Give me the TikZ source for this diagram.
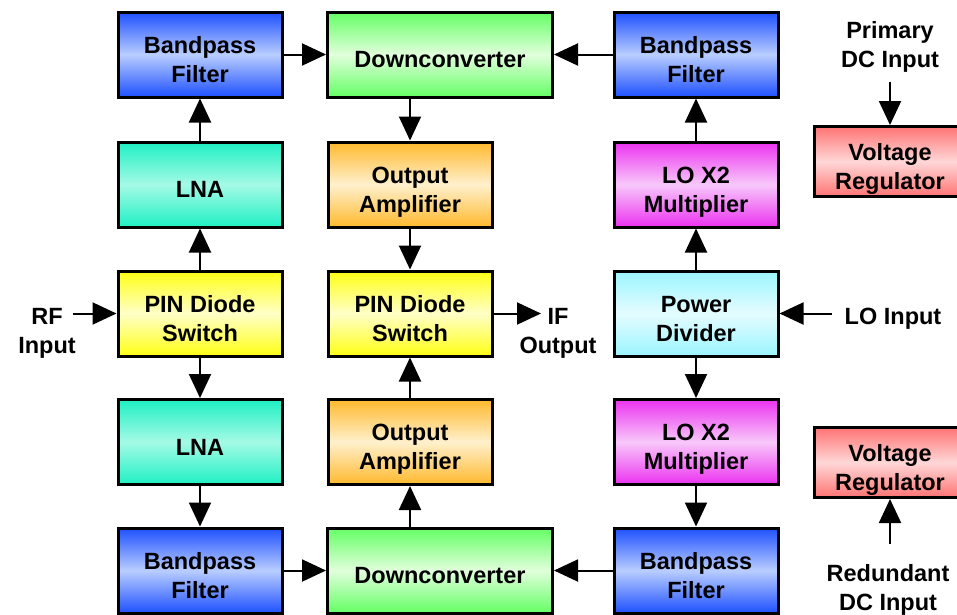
\documentclass[tikz,border=0pt]{standalone}
\usepackage{fontspec}
\setmainfont{Liberation Sans}
\usetikzlibrary{arrows.meta,positioning}

\definecolor{bpfblue}{RGB}{30,80,255}
\definecolor{bpflight}{RGB}{185,205,255}
\definecolor{dcgreen}{RGB}{100,255,100}
\definecolor{dclight}{RGB}{225,255,220}
\definecolor{lnateal}{RGB}{30,240,195}
\definecolor{lnalight}{RGB}{165,250,230}
\definecolor{oaorange}{RGB}{255,185,45}
\definecolor{oalight}{RGB}{255,240,205}
\definecolor{pinyellow}{RGB}{255,255,20}
\definecolor{pinlight}{RGB}{255,255,200}
\definecolor{lomag}{RGB}{235,50,240}
\definecolor{lolight}{RGB}{248,200,250}
\definecolor{pdcyan}{RGB}{155,245,255}
\definecolor{pdlight}{RGB}{228,252,255}
\definecolor{vrred}{RGB}{255,115,115}
\definecolor{vrlight}{RGB}{255,215,215}

\begin{document}
\begin{tikzpicture}[x=1pt,y=-1pt,->,>={Triangle[length=24pt,width=22pt]},
                    line width=2pt,
                    font=\fontsize{23.5}{29}\selectfont\bfseries,
  block/.style={draw,line width=3pt,minimum width=164pt,minimum height=85pt,
                inner sep=0pt,text height=55pt,text depth=0pt,align=center},
  oneline/.style={text height=26pt},
  shade/.style 2 args={top color=#1,bottom color=#1,middle color=#2},
  bpf/.style={block,shade={bpfblue}{bpflight}},
  dconv/.style={block,oneline,minimum width=225pt,shade={dcgreen}{dclight}},
  lna/.style={block,oneline,shade={lnateal}{lnalight}},
  outamp/.style={block,shade={oaorange}{oalight}},
  pin/.style={block,shade={pinyellow}{pinlight}},
  lomult/.style={block,shade={lomag}{lolight}},
  pdiv/.style={block,shade={pdcyan}{pdlight}},
  vreg/.style={block,minimum width=152pt,minimum height=70pt,shade={vrred}{vrlight}},
  lbl/.style={align=center}]

  \useasboundingbox[fill=white] (0,0) rectangle (957,614);

  % left column
  \node[bpf]    (bpfA) at (200,54.5)  {Bandpass\\Filter};
  \node[lna]    (lnaA) at (200,184.5) {LNA};
  \node[pin]    (pinA) at (200,313.5) {PIN Diode\\Switch};
  \node[lna]    (lnaB) at (200,442)   {LNA};
  \node[bpf]    (bpfB) at (200,570.5) {Bandpass\\Filter};

  % middle column
  \node[dconv]  (dcA)  at (440,54.5)  {Downconverter};
  \node[outamp] (oaA)  at (410,184.5) {Output\\Amplifier};
  \node[pin]    (pinB) at (410,313.5) {PIN Diode\\Switch};
  \node[outamp] (oaB)  at (410,442)   {Output\\Amplifier};
  \node[dconv]  (dcB)  at (440,570.5) {Downconverter};

  % LO column
  \node[bpf]    (bpfC) at (696,54.5)  {Bandpass\\Filter};
  \node[lomult] (loA)  at (696,184.5) {LO X2\\Multiplier};
  \node[pdiv]   (pd)   at (696,313.5) {Power\\Divider};
  \node[lomult] (loB)  at (696,442)   {LO X2\\Multiplier};
  \node[bpf]    (bpfD) at (696,570.5) {Bandpass\\Filter};

  % regulators
  \node[vreg]   (vrA)  at (890,161.5) {Voltage\\Regulator};
  \node[vreg]   (vrB)  at (890,462.5) {Voltage\\Regulator};

  % port labels
  \node[lbl] (rf)  at (47,333)  {RF\\Input};
  \node[lbl] (if)  at (558,333) {IF\\Output};
  \node[lbl] (lo)  at (893,319) {LO Input};
  \node[lbl] (pdc) at (890,47)  {Primary\\DC Input};
  \node[lbl] (rdc) at (888,590) {Redundant\\DC Input};

  \coordinate (rfin)  at (73,313.5);
  \coordinate (ifout) at (541,313.5);
  \coordinate (loin)  at (832,313.5);
  \coordinate (pdcin) at (890,82);
  \coordinate (rdcin) at (890,544);

  \path (rfin)  edge (pinA)
        (pinA)  edge (lnaA)
                edge (lnaB)
        (lnaA)  edge (bpfA)
        (lnaB)  edge (bpfB)
        (bpfA)  edge (dcA)
        (bpfB)  edge (dcB)
        (bpfC)  edge (dcA)
        (bpfD)  edge (dcB)
        (oaA)   edge (pinB)
        (oaB)   edge (pinB)
        (pinB)  edge (ifout)
        (loin)  edge (pd)
        (pd)    edge (loA)
                edge (loB)
        (loA)   edge (bpfC)
        (loB)   edge (bpfD)
        (pdcin) edge (vrA)
        (rdcin) edge (vrB);
  \draw (oaA.north |- dcA.south) -- (oaA.north);
  \draw (oaB.south |- dcB.north) -- (oaB.south);
\end{tikzpicture}
\end{document}
